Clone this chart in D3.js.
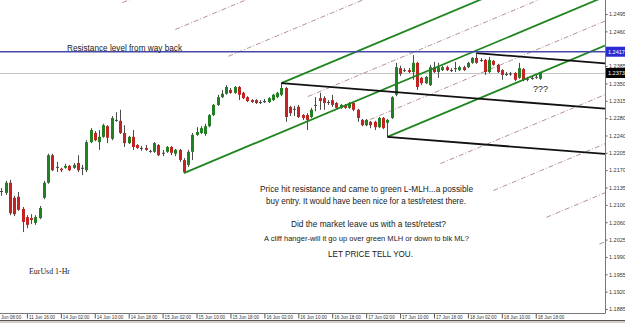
<!DOCTYPE html>
<html>
<head>
<meta charset="utf-8">
<script src="https://cdn.jsdelivr.net/npm/d3@7"></script>
<style>
  html, body { margin: 0; padding: 0; background: #fff; }
  svg { display: block; font-family: "Liberation Sans", Arial, sans-serif; }
</style>
</head>
<body>
<div id="chart"></div>
<script>
// EurUsd 1-Hr bars, 11 Jun 08:00 -> 18 Jun 19:00 (bar index 0..129)
const opens = [
  1.2131,1.2139,1.2127,1.2125,1.2146,1.2115,1.2117,1.2092,1.2075,1.2073,
  1.2063,1.2073,1.2115,1.2146,1.2203,1.2179,1.2175,1.2177,1.2181,1.2177,
  1.2187,1.2175,1.2172,1.2230,1.2249,1.2230,1.2241,1.2263,1.2237,1.2276,
  1.2274,1.2249,1.2228,1.2241,1.2224,1.2218,1.2218,1.2212,1.2210,1.2224,
  1.2208,1.2210,1.2220,1.2206,1.2214,1.2193,1.2183,1.2210,1.2245,1.2249,
  1.2247,1.2263,1.2286,1.2307,1.2323,1.2330,1.2338,1.2332,1.2344,1.2332,
  1.2323,1.2317,1.2317,1.2313,1.2315,1.2313,1.2317,1.2323,1.2328,1.2342,
  1.2303,1.2299,1.2303,1.2286,1.2286,1.2282,1.2307,1.2321,1.2321,1.2313,
  1.2317,1.2311,1.2301,1.2307,1.2301,1.2311,1.2297,1.2276,1.2265,1.2272,
  1.2272,1.2261,1.2280,1.2270,1.2280,1.2328,1.2383,1.2379,1.2379,1.2375,
  1.2394,1.2363,1.2352,1.2348,1.2385,1.2375,1.2379,1.2385,1.2379,1.2383,
  1.2379,1.2385,1.2385,1.2394,1.2404,1.2400,1.2400,1.2375,1.2398,1.2390,
  1.2379,1.2371,1.2371,1.2373,1.2363,1.2381,1.2361,1.2363,1.2365,1.2361
];
const highs = [
  1.2144,1.2144,1.2135,1.2150,1.2152,1.2119,1.2127,1.2096,1.2079,1.2081,
  1.2079,1.2098,1.2150,1.2206,1.2206,1.2189,1.2177,1.2185,1.2183,1.2187,
  1.2203,1.2183,1.2234,1.2259,1.2253,1.2255,1.2268,1.2265,1.2284,1.2292,
  1.2297,1.2265,1.2243,1.2255,1.2226,1.2222,1.2224,1.2214,1.2230,1.2226,
  1.2214,1.2222,1.2222,1.2216,1.2216,1.2197,1.2214,1.2249,1.2261,1.2263,
  1.2268,1.2288,1.2309,1.2328,1.2338,1.2348,1.2342,1.2346,1.2346,1.2334,
  1.2325,1.2319,1.2319,1.2317,1.2319,1.2323,1.2330,1.2334,1.2352,1.2344,
  1.2305,1.2305,1.2307,1.2288,1.2290,1.2301,1.2323,1.2332,1.2325,1.2317,
  1.2328,1.2313,1.2309,1.2309,1.2313,1.2313,1.2299,1.2278,1.2278,1.2274,
  1.2274,1.2282,1.2282,1.2278,1.2325,1.2394,1.2388,1.2383,1.2383,1.2410,
  1.2396,1.2365,1.2367,1.2390,1.2396,1.2394,1.2388,1.2388,1.2383,1.2396,
  1.2388,1.2388,1.2396,1.2406,1.2414,1.2404,1.2402,1.2406,1.2400,1.2392,
  1.2381,1.2375,1.2375,1.2375,1.2394,1.2383,1.2365,1.2367,1.2369,1.2375
];
const lows = [
  1.2123,1.2119,1.2119,1.2121,1.2079,1.2077,1.2088,1.2044,1.2052,1.2061,
  1.2059,1.2071,1.2112,1.2144,1.2170,1.2168,1.2168,1.2175,1.2170,1.2175,
  1.2168,1.2162,1.2168,1.2228,1.2232,1.2214,1.2239,1.2228,1.2234,1.2272,
  1.2247,1.2220,1.2226,1.2214,1.2216,1.2212,1.2212,1.2208,1.2208,1.2201,
  1.2201,1.2208,1.2203,1.2201,1.2189,1.2166,1.2179,1.2193,1.2243,1.2247,
  1.2243,1.2261,1.2284,1.2305,1.2321,1.2328,1.2330,1.2330,1.2317,1.2319,
  1.2313,1.2311,1.2309,1.2309,1.2311,1.2311,1.2315,1.2321,1.2325,1.2272,
  1.2284,1.2284,1.2280,1.2276,1.2255,1.2280,1.2294,1.2297,1.2297,1.2307,
  1.2303,1.2299,1.2299,1.2299,1.2299,1.2294,1.2272,1.2263,1.2263,1.2259,
  1.2255,1.2259,1.2257,1.2241,1.2278,1.2325,1.2367,1.2375,1.2373,1.2359,
  1.2338,1.2348,1.2350,1.2346,1.2373,1.2363,1.2377,1.2377,1.2375,1.2375,
  1.2377,1.2377,1.2383,1.2392,1.2392,1.2396,1.2369,1.2373,1.2388,1.2373,
  1.2359,1.2367,1.2367,1.2356,1.2361,1.2356,1.2356,1.2359,1.2361,1.2359
];
const closes = [
  1.2139,1.2127,1.2129,1.2146,1.2083,1.2081,1.2090,1.2065,1.2059,1.2069,
  1.2075,1.2094,1.2146,1.2203,1.2172,1.2177,1.2172,1.2181,1.2172,1.2183,
  1.2172,1.2177,1.2230,1.2255,1.2234,1.2241,1.2265,1.2239,1.2280,1.2275,
  1.2249,1.2228,1.2241,1.2220,1.2218,1.2217,1.2214,1.2211,1.2228,1.2203,
  1.2206,1.2220,1.2208,1.2214,1.2193,1.2168,1.2210,1.2245,1.2251,1.2259,
  1.2263,1.2286,1.2307,1.2323,1.2330,1.2344,1.2332,1.2344,1.2328,1.2321,
  1.2315,1.2313,1.2311,1.2312,1.2314,1.2321,1.2328,1.2332,1.2342,1.2282,
  1.2290,1.2297,1.2282,1.2280,1.2276,1.2297,1.2306,1.2315,1.2311,1.2312,
  1.2307,1.2301,1.2307,1.2301,1.2311,1.2297,1.2280,1.2265,1.2276,1.2265,
  1.2261,1.2280,1.2259,1.2276,1.2323,1.2385,1.2371,1.2378,1.2375,1.2394,
  1.2344,1.2352,1.2365,1.2385,1.2375,1.2385,1.2385,1.2379,1.2378,1.2382,
  1.2385,1.2379,1.2394,1.2404,1.2394,1.2399,1.2375,1.2400,1.2390,1.2375,
  1.2369,1.2370,1.2372,1.2359,1.2383,1.2359,1.2360,1.2362,1.2364,1.2373
];

// one label every 8 bars
const timeLabels = ["11 Jun 08:00","11 Jun 16:00","14 Jun 02:00","14 Jun 10:00","14 Jun 18:00",
  "15 Jun 02:00","15 Jun 10:00","15 Jun 18:00","16 Jun 02:00","16 Jun 10:00","16 Jun 18:00",
  "17 Jun 02:00","17 Jun 10:00","17 Jun 18:00","18 Jun 02:00","18 Jun 10:00","18 Jun 18:00"];
const priceLabels = ["1.2495","1.2460","1.2425","1.2385","1.2350","1.2315","1.2280","1.2240","1.2205",
  "1.2170","1.2135","1.2100","1.2060","1.2025","1.1990","1.1955","1.1920","1.1885"];

const resistance = 1.2417;

// pitchfork pivots: [bar index, "high"/"low"]
const greenPivots = [[45, "low"], [68, "high"], [93, "low"]];
const blackPivots = [[68, "high"], [93, "low"], [114, "high"]];
// extra parallel levels of the green fork (0 = upper tine, 1 = lower tine)
const forkLevels = [-1.5, -1, -0.5, 0.25, 0.75, 1.5, 2, 2.5, 3];

const notes = [
  {text: "Price hit resistance and came to green L-MLH...a possible", x: 260, y: 192, len: 213, size: 8.3},
  {text: "buy entry. It would have been nice for a test/retest there.", x: 266, y: 204, len: 200, size: 8.3},
  {text: "Did the market leave us with a test/retest?", x: 291, y: 227, len: 155, size: 8.3},
  {text: "A cliff hanger-will it go up over green MLH or down to blk ML?", x: 264, y: 241, len: 205, size: 7.6},
  {text: "LET PRICE TELL YOU.", x: 328, y: 257, len: 85, size: 8.3},
  {text: "Resistance level from way back", x: 67, y: 50.5, len: 115, size: 8.3},
  {text: "???", x: 533, y: 92, len: 15, size: 9}
];

const W = 625, H = 323, plotR = 605, plotB = 313;

const svg = d3.select("#chart").append("svg")
  .attr("width", W)
  .attr("height", H);

const x = d3.scaleLinear().domain([0, 129]).range([-7, 540]);
const y = d3.scaleLinear().domain([1.1885, 1.2495]).range([309, 14]);

const bars = opens.map((o, i) => ({i: i, o: o, h: highs[i], l: lows[i], c: closes[i]}));

svg.append("clipPath").attr("id", "plot")
  .append("rect").attr("width", plotR).attr("height", plotB);

const g = svg.append("g").attr("clip-path", "url(#plot)");

function pivot(p) {
  return [x(p[0]), y(p[1] == "low" ? lows[p[0]] : highs[p[0]])];
}
// line from a start point, parallel to the fork median, to the right edge
function ray(s, slope) {
  return [s[0], s[1], plotR, s[1] + slope * (plotR - s[0])];
}
function fork(pivots) {
  const p0 = pivot(pivots[0]), p1 = pivot(pivots[1]), p2 = pivot(pivots[2]);
  const mid = [(p1[0] + p2[0]) / 2, (p1[1] + p2[1]) / 2];
  const slope = (mid[1] - p0[1]) / (mid[0] - p0[0]);
  return {p0, p1, p2, slope};
}

const gf = fork(greenPivots);
const bf = fork(blackPivots);

// dashed level lines of the green fork
const levelLines = forkLevels.map(t => ray(
  [gf.p1[0] + t * (gf.p2[0] - gf.p1[0]), gf.p1[1] + t * (gf.p2[1] - gf.p1[1])], gf.slope));

g.selectAll("line.level")
  .data(levelLines)
  .enter().append("line")
    .attr("class", "level")
    .attr("x1", d => d[0]).attr("y1", d => d[1])
    .attr("x2", d => d[2]).attr("y2", d => d[3])
    .attr("stroke", "#b08585")
    .attr("stroke-width", 0.9)
    .attr("stroke-dasharray", "5,2,1,2");

// bid line
const lastClose = closes[closes.length - 1];
g.append("line")
  .attr("x1", 0).attr("x2", plotR)
  .attr("y1", Math.round(y(lastClose)) + 0.5).attr("y2", Math.round(y(lastClose)) + 0.5)
  .attr("stroke", "#c4c4c4")
  .attr("stroke-width", 1.2);

// candles
const candle = g.selectAll("g.candle")
  .data(bars)
  .enter().append("g")
    .attr("class", "candle");

candle.append("line")
  .attr("x1", d => Math.round(x(d.i)) + 0.5)
  .attr("x2", d => Math.round(x(d.i)) + 0.5)
  .attr("y1", d => y(d.h))
  .attr("y2", d => y(d.l))
  .attr("stroke", "#4a4a4a")
  .attr("stroke-width", 1);

candle.append("rect")
  .attr("x", d => Math.round(x(d.i)) - 1)
  .attr("width", 3)
  .attr("y", d => Math.min(y(d.o), y(d.c)))
  .attr("height", d => Math.max(1, Math.abs(y(d.o) - y(d.c))))
  .attr("fill", d => Math.abs(y(d.o) - y(d.c)) < 1 ? "#4a4a4a" : (d.c > d.o ? "#237f23" : "#c22424"));

// pitchfork lines
const greenLines = [
  ray(gf.p0, gf.slope),
  ray(gf.p1, gf.slope),
  ray(gf.p2, gf.slope)
];
const blackLines = [
  ray(bf.p0, bf.slope),
  ray(bf.p1, bf.slope),
  ray(bf.p2, bf.slope)
];

g.selectAll("line.green")
  .data(greenLines)
  .enter().append("line")
    .attr("class", "green")
    .attr("x1", d => d[0]).attr("y1", d => d[1])
    .attr("x2", d => d[2]).attr("y2", d => d[3])
    .attr("stroke", "#1f861f")
    .attr("stroke-width", 1.8);

g.selectAll("line.black")
  .data(blackLines)
  .enter().append("line")
    .attr("class", "black")
    .attr("x1", d => d[0]).attr("y1", d => d[1])
    .attr("x2", d => d[2]).attr("y2", d => d[3])
    .attr("stroke", "#111")
    .attr("stroke-width", 1.8);

// resistance line
g.append("line")
  .attr("x1", 0).attr("x2", plotR)
  .attr("y1", y(resistance)).attr("y2", y(resistance))
  .attr("stroke", "#4747a8")
  .attr("stroke-width", 1.6);

// y axis (evenly spaced labels as MT4 draws them)
const yTicks = d3.scalePoint().domain(priceLabels).range([14, 309]);
const yAxis = svg.append("g")
  .attr("transform", "translate(" + (plotR + 0.5) + ",0)")
  .call(d3.axisRight(yTicks).tickSize(2).tickSizeOuter(0).tickPadding(1.5));
yAxis.select(".domain").remove();
yAxis.selectAll("line").attr("stroke", "#555");
yAxis.selectAll("text").style("font-size", "5.5px").attr("fill", "#333");
// the blue price tag hides the tick label underneath it
yAxis.selectAll(".tick")
  .filter(d => Math.abs(yTicks(d) - y(resistance)) < 6)
  .select("text").remove();

svg.append("line")
  .attr("x1", plotR + 0.5).attr("x2", plotR + 0.5)
  .attr("y1", 0).attr("y2", plotB)
  .attr("stroke", "#777");

// x axis
const xAxis = svg.append("g")
  .attr("transform", "translate(0," + (plotB + 0.5) + ")")
  .call(d3.axisBottom(x)
    .tickValues(d3.range(0, 130, 8))
    .tickFormat(d => timeLabels[d / 8])
    .tickSize(5)
    .tickSizeOuter(0));
xAxis.select(".domain").remove();
xAxis.selectAll("line").attr("stroke", "#555");
xAxis.selectAll("text")
  .attr("x", 1.5).attr("y", 2).attr("dy", "0.71em")
  .style("text-anchor", "start")
  .style("font-size", "4.6px")
  .attr("fill", "#333");

svg.append("line")
  .attr("x1", 0).attr("x2", plotR + 0.5)
  .attr("y1", plotB + 0.5).attr("y2", plotB + 0.5)
  .attr("stroke", "#777");

// window bottom edge
svg.append("rect").attr("x", 0).attr("y", 320).attr("width", W).attr("height", 3).attr("fill", "#d4d0c8");
svg.append("line").attr("x1", 0).attr("x2", W).attr("y1", 320.5).attr("y2", 320.5)
  .attr("stroke", "#555").attr("stroke-width", 1.2);

// price labels on the axis
function priceTag(v, fill) {
  const yy = y(v);
  svg.append("rect")
    .attr("x", plotR + 1).attr("y", yy - 5)
    .attr("width", W - plotR - 1).attr("height", 10)
    .attr("fill", fill);
  svg.append("text")
    .attr("x", plotR + 3).attr("y", yy + 2)
    .style("font-size", "5.5px")
    .attr("fill", "#fff")
    .text(d3.format(".4f")(v));
}
priceTag(resistance, "#2b2bd0");
priceTag(lastClose, "#000");

// annotations
svg.selectAll("text.note")
  .data(notes)
  .enter().append("text")
    .attr("class", "note")
    .attr("x", d => d.x).attr("y", d => d.y)
    .attr("textLength", d => d.len)
    .attr("lengthAdjust", "spacingAndGlyphs")
    .style("font-size", d => d.size + "px")
    .attr("fill", "#1a1a1a")
    .text(d => d.text);

svg.append("text")
  .attr("x", 29).attr("y", 273.5)
  .attr("textLength", 41)
  .attr("lengthAdjust", "spacingAndGlyphs")
  .style("font-family", "'Liberation Serif', 'Times New Roman', serif")
  .style("font-size", "8px")
  .attr("fill", "#1a1a1a")
  .text("EurUsd 1-Hr");
</script>
</body>
</html>
